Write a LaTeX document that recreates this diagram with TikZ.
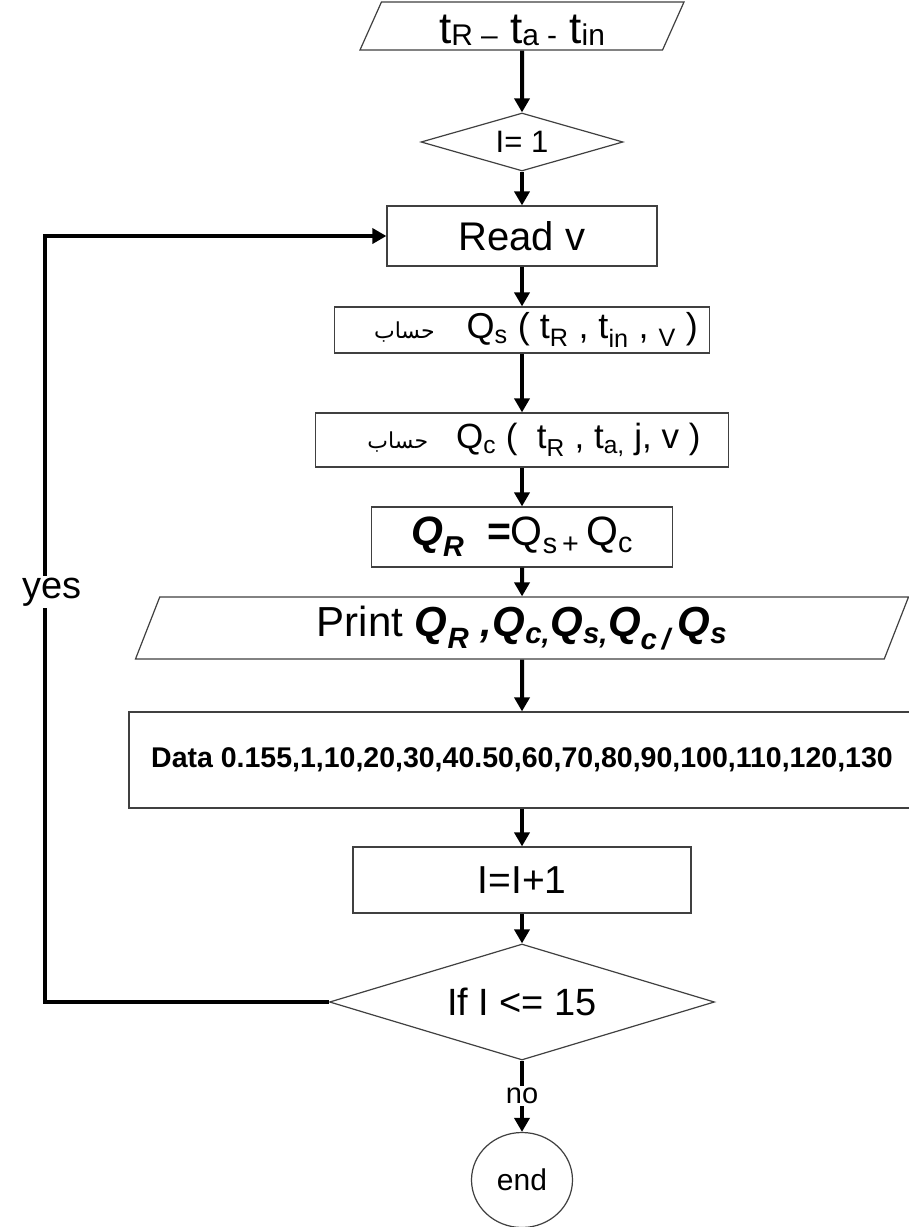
\documentclass[tikz,border=0pt]{standalone}
\usepackage{fontspec}
\setmainfont{Liberation Sans}
\newfontfamily\arabicfont[Script=Arabic]{DejaVu Sans}
\TeXXeTstate=1
\usetikzlibrary{shapes.geometric,arrows.meta}
\newcommand{\fs}[1]{\fontsize{#1}{#1}\selectfont}
\makeatletter
\newcommand{\lowsub}[1]{\raisebox{-0.06em}{\fontsize{\fpeval{0.68*\f@size}}{0}\selectfont #1}}
\makeatother
\tikzset{
  box/.style={draw=black!75, line width=1.2pt, rectangle, inner sep=0pt, fill=white},
  decision/.style={draw=black!75, line width=1.2pt, diamond, inner sep=0pt, fill=white},
  para/.style={draw=black!75, line width=1.2pt, trapezium, trapezium stretches body, inner sep=0pt, fill=white},
  terminal/.style={draw=black!75, line width=1.2pt, ellipse, inner sep=0pt, fill=white},
  flow/.style={line width=4pt, -{Triangle[width=15pt,length=14pt]}},
  lbl/.style={fill=white, inner sep=2pt}
}
\begin{document}
\begin{tikzpicture}[x=1pt,y=-1pt]
\useasboundingbox (0,0) rectangle (909,1227);
\clip (0,0) rectangle (909,1227);
\fill[white] (0,0) rectangle (909,1227);

\node[para, trapezium left angle=65, trapezium right angle=115, minimum width=324, minimum height=48, text height=40pt, text depth=6pt, font=\fs{44}] (inp) at (522,26) {t\lowsub{R\ –}\ t\lowsub{a\ -}\ t\lowsub{in}};
\node[decision, aspect=3.5, minimum width=202, minimum height=58, font=\fs{31}] (init) at (522,142) {I= 1};
\node[box, minimum width=270, minimum height=60, font=\fs{40}] (read) at (522,236) {Read v};
\node[box, minimum width=375, minimum height=46, font=\fs{36}] (qs) at (522,330) {\kern28pt{\arabicfont\fs{22}\beginR حساب\endR}\kern32pt Q\textsubscript{s} ( t\textsubscript{R} , t\textsubscript{in} , \textsubscript{V} )};
\node[box, minimum width=413, minimum height=54, font=\fs{35}] (qc) at (522,440) {\kern24pt{\arabicfont\fs{22}\beginR حساب\endR}\kern28pt Q\textsubscript{c} (\ \ t\textsubscript{R} , t\textsubscript{a,} j, v )};
\node[box, minimum width=301, minimum height=60, font=\fs{41}] (qr) at (522,537) {\textbf{\textit{Q\textsubscript{R}}}\ \ \textbf{=}Q\textsubscript{s\,+}\,Q\textsubscript{c}};
\node[para, trapezium left angle=61, trapezium right angle=119, minimum width=773, minimum height=62, font=\fs{42}] (print) at (522,628) {Print \textbf{\textit{Q\textsubscript{R} ,Q\textsubscript{c,}Q\textsubscript{s,}Q\textsubscript{c\,/}\,Q\textsubscript{s}}}};
\node[box, minimum width=786, minimum height=96, font=\fs{28.5}] (data) at (522,760) {\textbf{Data 0.155,1,10,20,30,40.50,60,70,80,90,100,110,120,130}};
\node[box, minimum width=338, minimum height=66, font=\fs{39}] (inc) at (522,880) {I=I+1};
\node[decision, aspect=3.3, minimum width=385, minimum height=116, font=\fs{38}] (test) at (522,1002) {If I <= 15};
\node[terminal, minimum width=101, minimum height=95, font=\fs{30}] (end) at (522,1180) {end};

\draw[flow] (inp.south) -- (init.north);
\draw[flow] (init.south) -- (read.north);
\draw[flow] (read.south) -- (qs.north);
\draw[flow] (qs.south) -- (qc.north);
\draw[flow] (qc.south) -- (qr.north);
\draw[flow] (qr.south) -- (print.north);
\draw[flow] (print.south) -- (data.north);
\draw[flow] (data.south) -- (inc.north);
\draw[flow] (inc.south) -- (test.north);
\draw[flow] (test.south) -- node[lbl, font=\fs{29}] (no) {no} (end.north);

\coordinate (lc) at (45,1002);
\draw[flow] (test.west) -- (lc) |- (read.west);
\node[lbl, font=\fs{38}] (yes) at (52,592) {yes};
\end{tikzpicture}
\end{document}
